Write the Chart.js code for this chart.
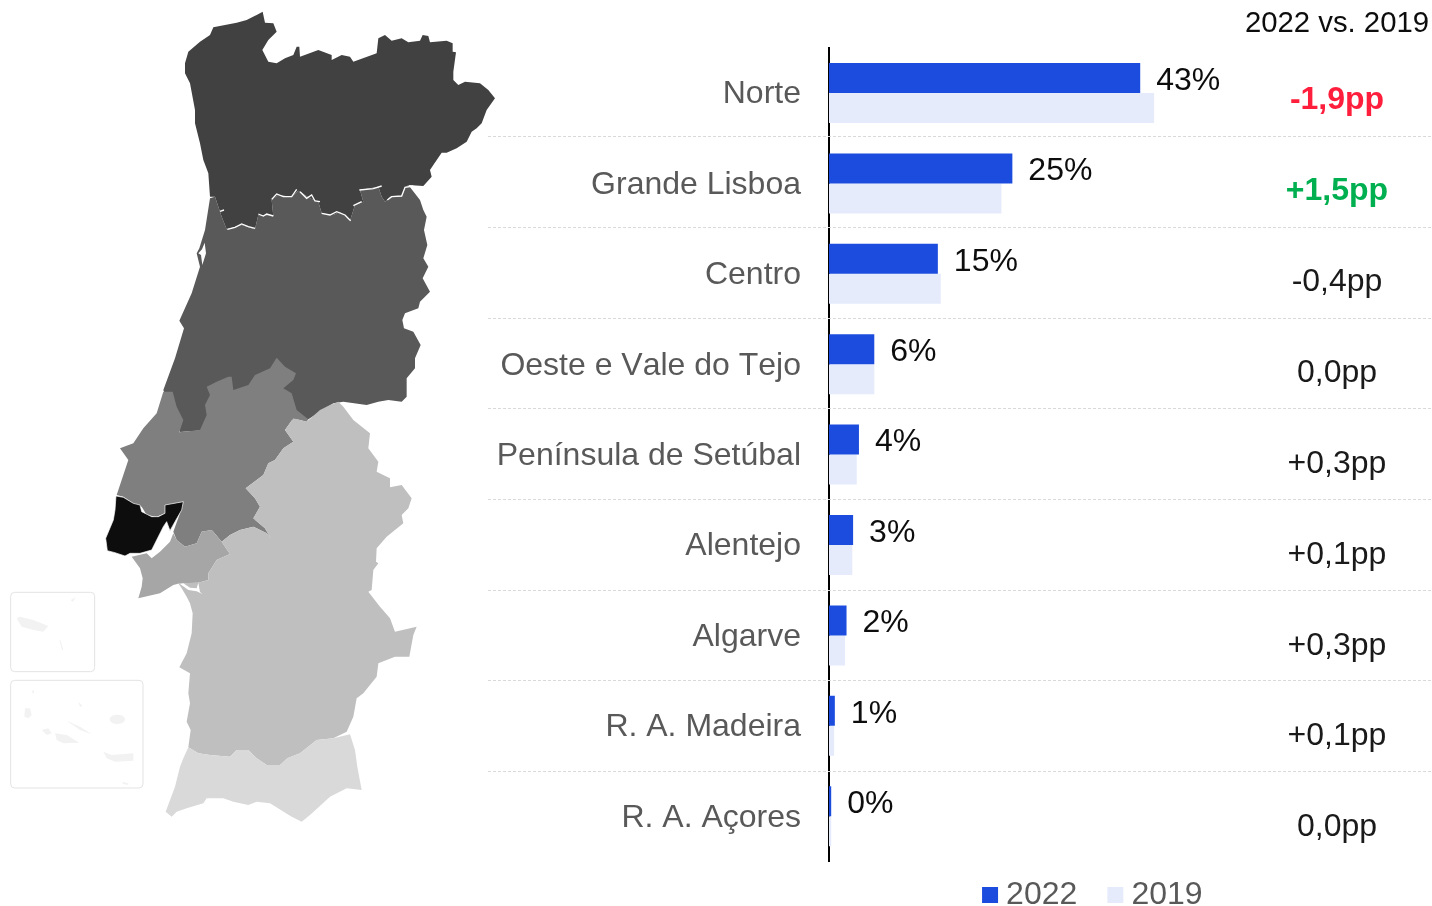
<!DOCTYPE html>
<html lang="pt">
<head>
<meta charset="utf-8">
<title>Regiões 2022 vs. 2019</title>
<script src="https://cdn.jsdelivr.net/npm/chart.js@4/dist/chart.umd.min.js"></script>
<style>
html,body{margin:0;padding:0;background:#fff;width:1432px;height:906px;overflow:hidden}
#map{position:absolute;left:0;top:0}
#wrap{position:absolute;left:0;top:0;width:1432px;height:906px}
</style>
</head>
<body>
<svg id="map" width="1432" height="906" viewBox="0 0 1432 906" xmlns="http://www.w3.org/2000/svg">
  <g transform="translate(100,0) scale(0.33333)">
    <polygon fill="#595959" points="330,595 345,590 365,650 380,688 425,675 465,688 475,645 520,648 515,600 535,585 575,590 595,572 630,595 655,605 665,640 700,645 720,635 750,662 765,615 790,605 780,570 835,560 845,590 855,605 870,590 905,590 915,565 925,555 960,600 970,630 980,650 972,690 982,735 970,775 985,800 968,835 990,875 960,905 955,925 915,940 907,960 912,985 940,995 962,1035 945,1075 945,1105 920,1135 920,1190 905,1205 865,1200 835,1205 800,1215 730,1205 700,1210 625,1258 590,1258 320,1290 240,1296 190,1170 225,1075 252,985 238,962 275,880 300,800 290,760 298,745 315,690"/>
    <polygon fill="#ffffff" points="314,728 318,760 307,795 303,765 295,760 306,748"/>
    <polygon fill="#414141" points="255,190 265,155 300,125 330,105 340,82 375,75 410,68 440,60 470,45 488,35 495,68 520,70 530,95 505,120 487,150 505,185 530,190 555,175 580,165 590,140 598,140 600,170 655,150 695,165 695,180 725,165 750,170 760,185 830,160 835,115 855,105 875,122 905,115 925,127 960,122 968,105 985,108 990,127 1040,122 1058,130 1058,155 1068,157 1060,215 1060,240 1075,255 1095,245 1140,250 1165,270 1185,295 1160,330 1145,370 1130,385 1115,395 1100,425 1070,445 1040,458 1025,458 1000,495 990,510 995,530 970,558 925,555 915,565 905,590 870,590 855,605 845,590 835,560 780,570 790,605 765,615 750,662 720,635 700,645 665,640 655,605 630,595 595,572 575,590 535,585 515,600 520,648 475,645 465,688 425,675 380,688 365,650 345,590 330,590 325,520 310,480 300,430 285,370 285,330 270,250 255,220"/>
    <g fill="none" stroke="#ffffff" stroke-width="4">
      <polyline points="382,688 405,682 425,672 445,680 465,685"/>
      <polyline points="475,642 490,648 500,642 520,648"/>
      <polyline points="515,598 530,582 550,590 575,590 590,568"/>
      <polyline points="600,575 620,595 635,585 645,603 660,605"/>
      <polyline points="665,640 690,645 710,635 735,645 752,662"/>
      <polyline points="760,617 785,605"/>
      <polyline points="778,570 820,566 845,558"/>
      <polyline points="862,600 875,590 905,588 915,562 940,558"/>
      <polyline points="360,634 372,630"/>
    </g>
  </g>
  <g transform="translate(0,400) scale(0.33333)">
    <polygon fill="#7f7f7f" points="490,-25 518,-25 530,20 550,60 538,97 600,90 620,45 615,15 630,-15 620,-40 650,-55 685,-70 695,-70 700,-30 745,-45 765,-75 810,-95 830,-127 855,-100 888,-80 880,-60 850,-35 875,-20 890,30 925,58 920,65 880,55 855,90 880,125 850,145 825,180 805,190 790,225 737,265 765,295 780,320 760,355 795,385 812,415 800,400 760,380 720,390 690,405 665,425 640,395 635,390 605,395 590,430 555,440 530,420 520,395 540,340 550,305 500,315 495,340 470,350 440,345 425,320 400,310 370,290 350,285 365,240 385,180 360,145 400,130 430,85 470,40"/>
    <polygon fill="#a6a6a6" points="395,470 440,460 455,475 480,455 510,425 520,400 530,420 555,440 590,430 605,395 635,390 640,395 665,425 690,462 650,480 625,520 625,540 595,548 540,550 520,555 480,580 415,595 425,560 428,535 420,505"/>
    <polygon fill="#bfbfbf" points="1015,5 1030,20 1060,60 1110,100 1105,145 1135,185 1130,215 1170,235 1170,262 1205,255 1235,295 1225,325 1205,345 1210,370 1160,410 1130,445 1128,485 1135,490 1120,510 1115,570 1105,575 1140,620 1170,655 1185,695 1250,680 1240,705 1228,770 1185,770 1135,790 1130,830 1090,880 1070,895 1060,950 1040,995 1000,1015 950,1020 900,1060 862,1075 840,1095 800,1095 770,1075 745,1050 710,1050 690,1070 630,1065 595,1060 565,1042 572,990 560,965 570,910 565,880 570,820 538,802 560,760 575,700 578,640 570,610 560,590 545,565 535,550 595,548 625,540 625,520 650,480 690,462 665,425 690,405 720,390 760,380 800,400 812,415 795,385 760,355 780,320 765,295 737,265 790,225 805,190 825,180 850,145 880,125 855,90 880,55 920,65 960,30 990,15"/>
    <polygon fill="#ffffff" points="540,552 565,570 590,574 608,583 600,576 595,548 590,565 570,563 550,550"/>
    <polygon fill="#d9d9d9" points="565,1042 595,1060 630,1065 690,1070 710,1050 745,1050 770,1075 800,1095 840,1095 862,1075 900,1060 950,1020 1000,1015 1050,1003 1065,1050 1072,1100 1085,1170 1040,1165 990,1190 930,1245 905,1265 875,1250 810,1210 770,1205 745,1215 700,1205 670,1195 620,1195 610,1210 560,1225 530,1235 515,1250 497,1235 525,1160 540,1100 550,1075"/>
    <polygon fill="#0d0d0d" stroke="#ffffff" stroke-width="2" points="348,288 370,292 400,310 420,315 425,335 455,350 475,350 495,340 495,315 550,305 545,330 525,365 510,392 500,365 490,380 470,420 455,450 420,460 390,460 375,468 345,458 322,452 317,415 340,360 345,330"/>
    <g fill="none" stroke="#e3e3e3" stroke-width="3">
      <rect x="32" y="577" width="252" height="238" rx="12"/>
      <rect x="32" y="841" width="397" height="323" rx="12"/>
    </g>
    <g fill="#f2f2f2">
      <polygon points="50,655 60,650 100,660 145,678 130,695 100,690 65,680"/>
      <polygon points="212,600 228,592 218,606"/>
      <polygon points="178,720 182,722 190,750 186,750"/>
      <polygon points="75,925 90,925 95,945 85,955 73,950"/>
      <polygon points="97,870 102,872 102,880 97,880"/>
      <polygon points="235,905 248,918 240,920"/>
      <ellipse cx="352" cy="958" rx="23" ry="14"/>
      <polygon points="200,962 240,980 275,1003 240,990"/>
      <polygon points="125,990 145,985 155,1000 140,1005"/>
      <polygon points="165,1000 200,1005 238,1028 190,1030 170,1020"/>
      <polygon points="310,1055 335,1065 400,1060 400,1082 345,1085 320,1075"/>
      <polygon points="365,1145 385,1150 385,1155 370,1152"/>
    </g>
  </g>
</svg>
<div id="wrap"><canvas id="c" width="1432" height="906"></canvas></div>
<script>
const categories = ['Norte','Grande Lisboa','Centro','Oeste e Vale do Tejo','Península de Setúbal','Alentejo','Algarve','R. A. Madeira','R. A. Açores'];
const values2022 = [42.6,25.1,14.9,6.2,4.1,3.3,2.4,0.8,0.3];
const values2019 = [44.5,23.6,15.3,6.2,3.8,3.2,2.2,0.7,0.3];
const deltaLabels = ['-1,9pp','+1,5pp','-0,4pp','0,0pp','+0,3pp','+0,1pp','+0,3pp','+0,1pp','0,0pp'];
const deltaColors = ['#FF1E3C','#00B050','#1a1a1a','#1a1a1a','#1a1a1a','#1a1a1a','#1a1a1a','#1a1a1a','#1a1a1a'];
const deltaBold = [true,true,false,false,false,false,false,false,false];
const headerText = '2022 vs. 2019';
const FONT = '"Liberation Sans", Arial, sans-serif';

const extras = {
  id:'extras',
  beforeUpdate(chart){
    const l = chart.legend;
    if(l && !l._noSpace){
      const fit = l.fit.bind(l);
      l.fit = function(){ fit(); this.height = 0; };
      l._noSpace = true;
    }
  },
  afterLayout(chart){
    const l = chart.legend;
    l.left = 952; l.right = 1432;
    l.top = 841; l.bottom = 906;
  },
  beforeDraw(chart){ chart.ctx.fontKerning = 'none'; },
  beforeDatasetsDraw(chart){
    const {ctx, scales:{y}} = chart;
    ctx.save();
    ctx.strokeStyle = '#D9D9D9'; ctx.lineWidth = 1; ctx.setLineDash([3,2]);
    for(let i=0;i<categories.length-1;i++){
      const yy = Math.round(y.getPixelForValue(i)+43.2+i*0.3)+0.5;
      ctx.beginPath(); ctx.moveTo(488,yy); ctx.lineTo(1432,yy); ctx.stroke();
    }
    ctx.restore();
  },
  afterDatasetsDraw(chart){
    const {ctx, scales:{y}} = chart;
    const meta = chart.getDatasetMeta(0);
    ctx.save();
    ctx.textBaseline = 'middle';
    ctx.textAlign = 'left';
    ctx.font = '32px '+FONT;
    ctx.fillStyle = '#0d0d0d';
    values2022.forEach((v,i)=>{
      const b = meta.data[i];
      ctx.fillText(Math.round(v)+'%', b.x+16, b.y+3);
    });
    ctx.textAlign = 'center';
    deltaLabels.forEach((t,i)=>{
      ctx.font = (deltaBold[i]?'bold ':'')+'32px '+FONT;
      ctx.fillStyle = deltaColors[i];
      ctx.fillText(t, 1337, y.getPixelForValue(i)+7.5+i*0.47);
    });
    ctx.font = '29.3px '+FONT;
    ctx.fillStyle = '#0d0d0d';
    ctx.fillText(headerText, 1337, 24);
    ctx.restore();
  }
};

new Chart(document.getElementById('c'),{
  type:'bar',
  data:{labels:categories,datasets:[
    {label:'2022',data:values2022,backgroundColor:'#1C4CDD'},
    {label:'2019',data:values2019,backgroundColor:'#E6EBFB'}
  ]},
  plugins:[extras],
  options:{
    indexAxis:'y',responsive:false,animation:false,
    categoryPercentage:0.664,barPercentage:1,
    layout:{padding:{top:47.8,bottom:44.6,right:77,left:0}},
    scales:{
      x:{display:false,min:0,max:72},
      y:{
        afterFit(s){s.width=829;s.paddingTop=0;s.paddingBottom=0;},
        z:1,
        grid:{display:false,drawTicks:false},
        border:{display:true,color:'#000',width:2},
        ticks:{color:'#595959',font:{family:FONT,size:32},padding:28,autoSkip:false,labelOffset:1.5}
      }
    },
    plugins:{
      tooltip:{enabled:false},
      legend:{
        position:'bottom',align:'start',
        labels:{usePointStyle:true,pointStyle:'rect',boxWidth:0.1,boxHeight:16,padding:38,color:'#595959',font:{family:FONT,size:32}}
      }
    }
  }
});
</script>
</body>
</html>
